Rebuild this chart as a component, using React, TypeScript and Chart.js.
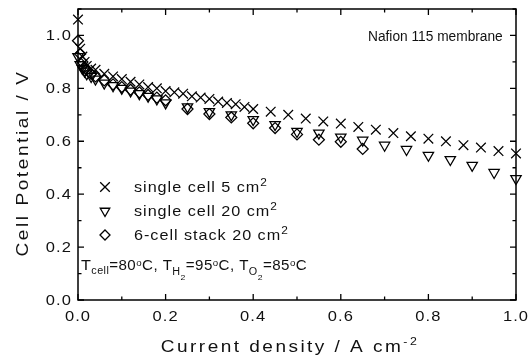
import React, { useEffect, useRef } from 'react';
import { Chart, registerables } from 'chart.js';

Chart.register(...registerables);

// ---- tick labels ----
const xTicks = [0, 0.2, 0.4, 0.6, 0.8, 1.0];
const yTicks = [0, 0.2, 0.4, 0.6, 0.8, 1.0];
const xMinor = [0.1, 0.3, 0.5, 0.7, 0.9];
const yMinor = [0.1, 0.3, 0.5, 0.7, 0.9, 1.1];

// ---- series: single cell 5 cm2 (x) ----
const cell5X = [0, 0.005, 0.01, 0.015, 0.02, 0.03, 0.04, 0.06, 0.08, 0.10, 0.12, 0.14, 0.16, 0.18, 0.20,
  0.22, 0.24, 0.26, 0.28, 0.30, 0.32, 0.34, 0.36, 0.38, 0.40, 0.44, 0.48, 0.52, 0.56, 0.60, 0.64, 0.68,
  0.72, 0.76, 0.80, 0.84, 0.88, 0.92, 0.96, 1.00];
const cell5Y = [1.06, 0.95, 0.92, 0.90, 0.885, 0.875, 0.87, 0.855, 0.845, 0.835, 0.825, 0.815, 0.805, 0.80, 0.79,
  0.785, 0.78, 0.77, 0.765, 0.76, 0.75, 0.745, 0.74, 0.73, 0.722, 0.712, 0.70, 0.686, 0.675, 0.667, 0.654, 0.644,
  0.631, 0.619, 0.610, 0.600, 0.585, 0.576, 0.563, 0.554];

// ---- series: single cell 20 cm2 (down triangle) ----
const cell20X = [0, 0.005, 0.01, 0.015, 0.02, 0.03, 0.04, 0.06, 0.08, 0.10, 0.12, 0.14, 0.16, 0.18, 0.20,
  0.25, 0.30, 0.35, 0.40, 0.45, 0.50, 0.55, 0.60, 0.65, 0.70, 0.75, 0.80, 0.85, 0.90, 0.95, 1.00];
const cell20Y = [0.92, 0.89, 0.875, 0.865, 0.855, 0.845, 0.835, 0.82, 0.81, 0.80, 0.79, 0.78, 0.77, 0.76, 0.745,
  0.73, 0.712, 0.70, 0.682, 0.663, 0.637, 0.631, 0.616, 0.604, 0.585, 0.569, 0.547, 0.531, 0.509, 0.482, 0.459];

// ---- series: 6-cell stack 20 cm2 (diamond) ----
const stackX = [0, 0.005, 0.01, 0.015, 0.02, 0.03, 0.04, 0.06, 0.08, 0.10, 0.12, 0.14, 0.16, 0.18, 0.20,
  0.25, 0.30, 0.35, 0.40, 0.45, 0.50, 0.55, 0.60, 0.65];
const stackY = [0.98, 0.93, 0.90, 0.88, 0.87, 0.855, 0.845, 0.83, 0.815, 0.805, 0.795, 0.785, 0.775, 0.765, 0.755,
  0.722, 0.703, 0.69, 0.668, 0.65, 0.626, 0.606, 0.598, 0.571];

const FONT = '"Liberation Sans", Arial, Helvetica, sans-serif';

type Run = { t: string; size: number; dy?: number };

function drawRuns(
  ctx: CanvasRenderingContext2D,
  runs: Run[],
  x: number,
  y: number,
  opts: { align?: 'left' | 'center' | 'right'; ls?: number; sx?: number; rotate?: boolean; baseline?: CanvasTextBaseline }
) {
  const ls = opts.ls ?? 0;
  const sx = opts.sx ?? 1;
  ctx.save();
  ctx.translate(x, y);
  if (opts.rotate) ctx.rotate(-Math.PI / 2);
  ctx.scale(sx, 1);
  ctx.fillStyle = '#111';
  ctx.textAlign = 'left';
  ctx.textBaseline = opts.baseline ?? 'alphabetic';
  (ctx as any).letterSpacing = ls + 'px';
  let total = 0;
  const widths: number[] = [];
  for (const r of runs) {
    ctx.font = `${r.size}px ${FONT}`;
    const w = ctx.measureText(r.t).width;
    widths.push(w);
    total += w;
  }
  let cx = opts.align === 'center' ? -total / 2 : opts.align === 'right' ? -total : 0;
  runs.forEach((r, i) => {
    ctx.font = `${r.size}px ${FONT}`;
    ctx.fillText(r.t, cx, r.dy ?? 0);
    cx += widths[i];
  });
  ctx.restore();
}

function marker(ctx: CanvasRenderingContext2D, kind: string, x: number, y: number) {
  ctx.save();
  ctx.strokeStyle = '#000';
  ctx.lineWidth = 1.3;
  ctx.beginPath();
  if (kind === 'cross') {
    const s = 4.8;
    ctx.moveTo(x - s, y - s); ctx.lineTo(x + s, y + s);
    ctx.moveTo(x - s, y + s); ctx.lineTo(x + s, y - s);
  } else if (kind === 'tri') {
    const r = 5.5;
    ctx.moveTo(x, y + r);
    ctx.lineTo(x - 0.866 * r, y - 0.5 * r);
    ctx.lineTo(x + 0.866 * r, y - 0.5 * r);
    ctx.closePath();
  } else {
    const r = 5;
    ctx.moveTo(x - r, y); ctx.lineTo(x, y - r); ctx.lineTo(x + r, y); ctx.lineTo(x, y + r);
    ctx.closePath();
  }
  ctx.stroke();
  ctx.restore();
}

const decor = {
  id: 'decor',
  afterDatasetsDraw(chart: any) {
    const { ctx, chartArea } = chart;
    const { left, right, top, bottom } = chartArea;
    const xs = chart.scales.x;
    const ys = chart.scales.y;
    ctx.save();
    ctx.strokeStyle = '#000';
    ctx.lineWidth = 1.5;
    ctx.strokeRect(left, top, right - left, bottom - top);
    ctx.lineWidth = 1.3;
    ctx.beginPath();
    const tx = (v: number, len: number) => {
      const p = xs.getPixelForValue(v);
      ctx.moveTo(p, bottom); ctx.lineTo(p, bottom - len);
      ctx.moveTo(p, top); ctx.lineTo(p, top + len);
    };
    const ty = (v: number, len: number) => {
      const p = ys.getPixelForValue(v);
      ctx.moveTo(left, p); ctx.lineTo(left + len, p);
      ctx.moveTo(right, p); ctx.lineTo(right - len, p);
    };
    xTicks.forEach((v) => tx(v, 6));
    xMinor.forEach((v) => tx(v, 3.5));
    yTicks.forEach((v) => ty(v, 6));
    yMinor.forEach((v) => ty(v, 3.5));
    ctx.stroke();
    ctx.restore();

    // tick labels
    xTicks.forEach((v) => {
      drawRuns(ctx, [{ t: v.toFixed(1), size: 15 }], xs.getPixelForValue(v), bottom + 21, { align: 'center', ls: 1, sx: 1.1 });
    });
    yTicks.forEach((v) => {
      drawRuns(ctx, [{ t: v.toFixed(1), size: 15 }], left - 6, ys.getPixelForValue(v) + 5, { align: 'right', ls: 1, sx: 1.1 });
    });

    // axis titles
    drawRuns(ctx, [{ t: 'Current density / A cm', size: 17 }, { t: '-2', size: 11, dy: -7 }], 290, 352,
      { align: 'center', ls: 2.2, sx: 1.12 });
    drawRuns(ctx, [{ t: 'Cell Potential / V', size: 17 }], 23, 163,
      { align: 'center', ls: 2.3, sx: 1.12, rotate: true, baseline: 'middle' });

    // top-right note
    drawRuns(ctx, [{ t: 'Nafion 115 membrane', size: 14 }], 368, 41, { align: 'left', ls: 0, sx: 0.98 });

    // legend
    const rows: [string, string, number][] = [
      ['cross', 'single cell 5 cm', 187],
      ['tri', 'single cell 20 cm', 211],
      ['dia', '6-cell stack 20 cm', 235],
    ];
    rows.forEach(([k, t, yy]) => {
      marker(ctx, k, 105, yy);
      drawRuns(ctx, [{ t, size: 15 }, { t: '2', size: 11, dy: -6 }], 134, yy + 5, { align: 'left', ls: 0.9, sx: 1.08 });
    });

    // conditions
    drawRuns(ctx, [
      { t: 'T', size: 15 }, { t: 'cell', size: 10, dy: 4 }, { t: '=80', size: 14 }, { t: 'o', size: 9, dy: -4 },
      { t: 'C, T', size: 14 }, { t: 'H', size: 10, dy: 5 }, { t: '2', size: 8, dy: 10 }, { t: '=95', size: 14 },
      { t: 'o', size: 9, dy: -4 }, { t: 'C, T', size: 14 }, { t: 'O', size: 10, dy: 5 }, { t: '2', size: 8, dy: 10 },
      { t: '=85', size: 14 }, { t: 'o', size: 9, dy: -4 }, { t: 'C', size: 14 },
    ], 81, 270, { align: 'left', ls: 0.4, sx: 1.08 });
  },
};

function pts(xs: number[], ys: number[]) {
  return xs.map((x, i) => ({ x, y: ys[i] }));
}

export default function App() {
  const ref = useRef<HTMLCanvasElement>(null);
  useEffect(() => {
    document.body.style.margin = '0';
    const canvas = ref.current!;
    const common = {
      showLine: false,
      borderColor: '#000',
      backgroundColor: 'rgba(0,0,0,0)',
      pointBorderWidth: 1.25,
      clip: false,
    };
    const chart = new Chart(canvas, {
      type: 'scatter',
      data: {
        datasets: [
          { ...common, label: 'single cell 5 cm2', data: pts(cell5X, cell5Y), pointStyle: 'crossRot', pointRadius: 6.8 },
          { ...common, label: 'single cell 20 cm2', data: pts(cell20X, cell20Y), pointStyle: 'triangle', pointRotation: 180, pointRadius: 6 },
          { ...common, label: '6-cell stack 20 cm2', data: pts(stackX, stackY), pointStyle: 'rectRot', pointRadius: 5.5 },
        ],
      },
      options: {
        animation: false,
        responsive: false,
        devicePixelRatio: 1,
        layout: { padding: { left: 0, right: 13, top: 9, bottom: 0 } },
        plugins: { legend: { display: false }, tooltip: { enabled: false } },
        scales: {
          x: {
            type: 'linear', min: 0, max: 1.0,
            ticks: { display: false },
            grid: { display: false },
            border: { display: false },
            afterFit: (s: any) => { s.height = 61; },
          },
          y: {
            type: 'linear', min: 0, max: 1.1,
            ticks: { display: false },
            grid: { display: false },
            border: { display: false },
            afterFit: (s: any) => { s.width = 78; },
          },
        },
      },
      plugins: [decor],
    } as any);
    return () => chart.destroy();
  }, []);
  return <canvas ref={ref} width={529} height={361} style={{ display: 'block', width: 529, height: 361 }} />;
}
